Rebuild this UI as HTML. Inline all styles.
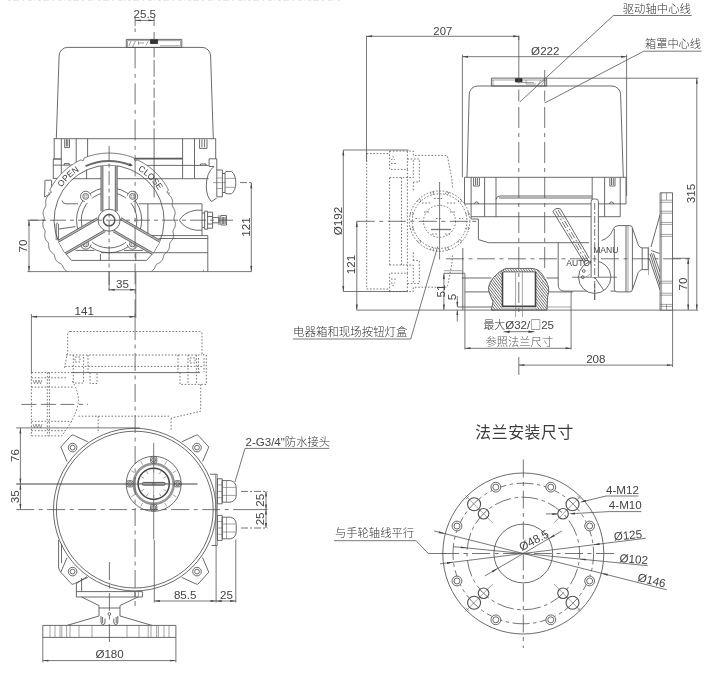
<!DOCTYPE html>
<html lang="zh-CN"><head><meta charset="utf-8"><title>外形尺寸图</title>
<style>
html,body{margin:0;padding:0;background:#fff;}
body{width:713px;height:675px;overflow:hidden;}
svg{display:block;will-change:transform;}
.g line,.g path,.g circle,.g rect,.g ellipse,.g polyline{fill:none;stroke:#505050;stroke-width:.85;stroke-linecap:butt;stroke-linejoin:round;}
.g .d{stroke:#555;stroke-width:.8;}
.g .n{stroke-width:.6;stroke:#666;}
.g .c{stroke-dasharray:18 4.5 4 4.5;stroke-width:.8;}
.g .cs{stroke-dasharray:7 2 2 2;stroke-width:.8;}
.g .h{stroke-dasharray:1.6 1.7;stroke-width:.8;stroke:#555;}
.g .a{fill:#444;stroke:none;}
.g .k{fill:#333;stroke:#333;}
.g .w{fill:#fff;}
text{font-family:"Liberation Sans","Noto Sans CJK SC",sans-serif;fill:#444;}
text.cj,tspan.cj{font-weight:300;fill:#333;}
text.ti{fill:#3c3c3c;font-weight:400;}
text.lt{font-weight:300;fill:#555;}
</style></head><body>
<svg width="713" height="675" viewBox="0 0 713 675">
<rect width="713" height="675" fill="#fff"/>
<g class="g">
<line x1="8" y1="0.3" x2="340" y2="0.3" style="stroke:#e2e2e2;stroke-width:1;stroke-dasharray:3 2 6 3 2 4 4 2 1 3"/>
<!-- front view -->
<path d="M56.3 138.7 L59.1 56 A8.6 8.6 0 0 1 67.7 47.4 L202 47.4 A8.6 8.6 0 0 1 210.6 56 L213.3 138.7"/>
<rect x="126.3" y="39.4" width="55.5" height="8"/>
<path d="M127.5 47.4 V40.6 H150 M158 40.6 H180.6 V45.8 H160" class="n"/>
<rect x="150.5" y="39.8" width="7.1" height="3.8" class="k"/>
<path d="M129 46 L131 41 M132.5 47 L135.5 41 M138.5 45 V41.5 M138.5 43 H144 M146 45.5 L148 41.5" class="n"/>
<line x1="53.6" y1="138.7" x2="215.7" y2="138.7"/>
<path d="M54.2 138.7 V159 M53.3 159 V178.4 H58.5"/>
<line x1="61.3" y1="138.7" x2="61.3" y2="178"/>
<line x1="76.2" y1="138.7" x2="76.2" y2="165.1"/>
<line x1="87.6" y1="138.7" x2="87.6" y2="160"/>
<path d="M53.3 159 H61.3" style="stroke-width:1.3"/>
<line x1="53.3" y1="165.1" x2="78" y2="165.1"/>
<path d="M64.7 139.3 V147.6 H69.5 V139.3 M66.4 139.3 V146.5 M67.8 139.3 V146.5"/>
<path d="M64.4 165.1 V163.6 H69.3 V165.1"/>
<line x1="182.6" y1="138.7" x2="182.6" y2="178.6"/>
<line x1="194.5" y1="138.7" x2="194.5" y2="178.6"/>
<path d="M134.8 158.6 H182.6" style="stroke-width:1.7;stroke:#5a5a5a"/>
<line x1="142" y1="165.4" x2="208.6" y2="165.4"/>
<path d="M199.6 139.3 V148.4 H207 V139.3 M202 139.3 V147.3 M204.6 139.3 V147.3"/>
<path d="M200.4 165.4 V164 H206 V165.4"/>
<path d="M215.7 138.7 V158.8 M209.1 166.5 V158.8 H216.8 V170"/>
<path d="M214 166.5 Q206.5 172 206.3 186 Q206.5 197 211.5 201.5 L216.8 198"/>
<line x1="209.1" y1="166.5" x2="214" y2="166.5"/>
<path d="M216.8 170 H222.4 V196.8 H216.8 Z"/>
<line x1="216.8" y1="178" x2="222.4" y2="178" class="n"/>
<line x1="216.8" y1="188.5" x2="222.4" y2="188.5" class="n"/>
<path d="M222.4 173.5 H225 M222.4 192.5 H225"/>
<path d="M225 173.2 Q225 171.4 227 171.4 H231.5 Q235.8 175 235.8 182.6 Q235.8 190.5 231.5 193.8 H227 Q225 193.8 225 192 Z"/>
<line x1="225" y1="178.4" x2="235" y2="178.4" class="n"/>
<line x1="225" y1="187.3" x2="235" y2="187.3" class="n"/>
<line x1="213" y1="182.6" x2="226" y2="182.6" class="n"/>
<line x1="202" y1="203.8" x2="202" y2="235.6"/>
<path d="M202 210.2 H196 Q184 212 179.4 220.2 Q184 228.5 196 230.2 H202"/>
<path d="M204.6 211.2 H207.6 V229.2 H204.6 Z M207.6 212.2 H212.6 V228.2 H207.6 M207.6 216.5 H212.6 M207.6 224 H212.6"/>
<path d="M212.6 217.6 H219 V222.8 H212.6 M219 215.3 V225.2 M220.8 215.5 H226.5 V225 H220.8 Z M222.3 217 V224 M223.7 217 V224 M225.1 217 V224"/>
<line x1="202" y1="213" x2="204.6" y2="213"/>
<line x1="202" y1="227.4" x2="204.6" y2="227.4"/>
<line x1="207.8" y1="235.6" x2="207.8" y2="271.6"/>
<line x1="203.5" y1="271.6" x2="203.5" y2="269.8" class="n"/>
<line x1="27.5" y1="271.6" x2="251.5" y2="271.6" class="d"/>
<path d="M45 181 Q44.3 180.4 45.5 180.3 L50.8 180.2 Q51.6 180.2 51.6 181 V193 L44.6 197 Z"/>
<path d="M66.97 271.6 L66.56 271.09 L66.18 270.83 L65.81 270.54 L65.46 270.24 L65.11 269.93 L64.77 269.62 L64.44 269.28 L64.14 268.92 L63.87 268.54 L63.62 268.13 L63.39 267.69 L63.19 267.24 L63 266.78 L62.81 266.32 L62.61 265.87 L62.39 265.45 L62.14 265.06 L61.86 264.7 L61.53 264.38 L61.17 264.09 L60.78 263.84 L60.35 263.6 L59.91 263.38 L59.47 263.16 L59.02 262.94 L58.59 262.69 L58.18 262.43 L57.8 262.14 L57.45 261.83 L57.13 261.49 L56.83 261.14 L56.54 260.77 L56.26 260.4 L55.99 260.03 L55.73 259.63 L55.51 259.22 L55.32 258.79 L55.16 258.33 L55.03 257.86 L54.92 257.38 L54.82 256.89 L54.72 256.4 L54.61 255.93 L54.47 255.47 L54.3 255.04 L54.09 254.64 L53.83 254.26 L53.53 253.91 L53.19 253.59 L52.81 253.28 L52.42 252.97 L52.03 252.67 L51.63 252.36 L51.26 252.04 L50.92 251.7 L50.6 251.34 L50.32 250.97 L50.07 250.57 L49.85 250.16 L49.64 249.75 L49.43 249.33 L49.24 248.91 L49.08 248.47 L48.94 248.02 L48.84 247.56 L48.77 247.08 L48.74 246.59 L48.73 246.09 L48.73 245.59 L48.72 245.1 L48.71 244.61 L48.66 244.14 L48.57 243.69 L48.43 243.25 L48.25 242.84 L48.01 242.44 L47.74 242.05 L47.43 241.67 L47.1 241.3 L46.77 240.93 L46.45 240.55 L46.15 240.16 L45.88 239.76 L45.65 239.35 L45.45 238.92 L45.28 238.48 L45.14 238.04 L45.02 237.59 L44.9 237.14 L44.8 236.69 L44.72 236.23 L44.68 235.76 L44.68 235.28 L44.71 234.8 L44.77 234.31 L44.86 233.82 L44.96 233.33 L45.05 232.85 L45.12 232.37 L45.16 231.9 L45.16 231.43 L45.1 230.98 L44.99 230.54 L44.84 230.1 L44.64 229.67 L44.41 229.24 L44.16 228.81 L43.91 228.38 L43.67 227.95 L43.45 227.51 L43.27 227.06 L43.12 226.61 L43.02 226.15 L42.94 225.69 L42.89 225.23 L42.86 224.77 L42.83 224.3 L42.82 223.84 L42.84 223.37 L42.89 222.9 L42.98 222.43 L43.11 221.97 L43.27 221.5 L43.46 221.04 L43.65 220.58 L43.83 220.12 L43.99 219.66 L44.12 219.21 L44.2 218.75 L44.23 218.3 L44.2 217.84 L44.13 217.39 L44.01 216.92 L43.87 216.46 L43.71 215.99 L43.54 215.52 L43.39 215.04 L43.27 214.57 L43.18 214.1 L43.13 213.62 L43.12 213.16 L43.14 212.69 L43.18 212.23 L43.24 211.77 L43.3 211.3 L43.39 210.85 L43.5 210.39 L43.64 209.95 L43.83 209.51 L44.05 209.07 L44.3 208.65 L44.57 208.23 L44.85 207.81 L45.11 207.4 L45.36 206.98 L45.57 206.56 L45.73 206.13 L45.84 205.69 L45.9 205.24 L45.91 204.77 L45.88 204.29 L45.83 203.81 L45.76 203.32 L45.69 202.82 L45.64 202.33 L45.62 201.84 L45.62 201.36 L45.67 200.89 L45.75 200.43 L45.87 199.98 L46 199.53 L46.15 199.09 L46.3 198.65 L46.47 198.22 L46.67 197.79 L46.91 197.39 L47.18 196.99 L47.48 196.61 L47.81 196.24 L48.16 195.89 L48.51 195.53 L48.85 195.18 L49.17 194.82 L49.45 194.44 L49.69 194.05 L48.7 193.11 L49.74 193.07 L50.56 192.95 L51.07 192.69 L51.2 192.25 L50.98 191.64 L50.47 190.88 L49.81 190.03 L49.96 189.58 L50.17 189.17 L50.39 188.75 L50.61 188.34 L50.84 187.93 L51.06 187.53 L51.3 187.12 L51.53 186.72 L51.76 186.31 L52 185.91 L52.24 185.51 L52.49 185.12 L52.74 184.72 L52.99 184.33 L53.24 183.94 L53.49 183.54 L53.75 183.16 L54.01 182.77 L54.28 182.38 L54.54 182 L54.81 181.62 L55.08 181.24 L55.36 180.86 L55.64 180.49 L55.92 180.11 L56.2 179.74 L56.48 179.37 L56.77 179 L57.06 178.64 L57.35 178.27 L57.65 177.91 L57.94 177.55 L58.24 177.2 L58.55 176.84 L58.85 176.49 L59.16 176.14 L59.47 175.79 L59.78 175.44 L60.1 175.1 L60.41 174.75 L60.73 174.41 L61.06 174.08 L61.38 173.74 L61.71 173.41 L62.04 173.08 L62.37 172.75 L62.7 172.42 L63.04 172.1 L63.38 171.78 L63.72 171.46 L64.06 171.14 L64.4 170.83 L64.75 170.51 L65.1 170.2 L65.45 169.9 L65.8 169.59 L66.16 169.29 L66.52 168.99 L66.88 168.69 L67.24 168.4 L67.6 168.11 L67.97 167.82 L68.34 167.53 L68.71 167.25 L69.08 166.97 L69.45 166.69 L69.83 166.41 L70.21 166.14 L70.59 165.86 L70.97 165.6 L71.35 165.33 L71.74 165.07 L72.12 164.81 L72.51 164.55 L72.9 164.29 L73.3 164.04 L73.69 163.79 L74.09 163.55 L74.49 163.3 L74.89 163.06 L75.29 162.82 L75.69 162.59 L76.09 162.35 L76.5 162.12 L76.91 161.9 L77.32 161.67 L77.73 161.45 L78.14 161.23 L78.55 161.02 L78.97 160.81 L79.39 160.6 L79.8 160.39 L80.22 160.19 L80.65 159.98 L81.15 159.97 L81.86 160.4 L82.49 160.68 L83.01 160.72 L83.39 160.46 L83.65 159.91 L83.82 159.12 L83.94 158.18 L84.31 157.85 L84.75 157.67 L85.19 157.5 L85.63 157.34 L86.07 157.18 L86.51 157.02 L86.96 156.86 L87.4 156.71 L87.85 156.56 L88.29 156.41 L88.74 156.26 L89.19 156.12 L89.64 155.98 L90.09 155.85 L90.54 155.72 L90.99 155.59 L91.44 155.46 L91.9 155.34 L92.35 155.22 L92.81 155.11 L93.27 155 L93.72 154.89 L94.18 154.78 L94.64 154.68 L95.1 154.58 L95.56 154.48 L96.02 154.39 L96.48 154.3 L96.94 154.21 L97.41 154.13 L97.87 154.05 L98.33 153.97 L98.8 153.9 L99.26 153.83 L99.73 153.76 L100.19 153.69 L100.66 153.63 L101.13 153.58 L101.59 153.52 L102.06 153.47 L102.53 153.42 L103 153.38 L103.46 153.34 L103.93 153.3 L104.4 153.26 L104.87 153.23 L105.34 153.21 L105.81 153.18 L106.28 153.16 L106.75 153.14 L107.22 153.13 L107.69 153.11 L108.16 153.11 L108.63 153.1 L109.1 153.1 L109.57 153.1 L110.04 153.11 L110.51 153.11 L110.98 153.13 L111.45 153.14 L111.92 153.16 L112.39 153.18 L112.86 153.21 L113.33 153.23 L113.8 153.26 L114.27 153.3 L114.74 153.34 L115.2 153.38 L115.67 153.42 L116.14 153.47 L116.61 153.52 L117.07 153.58 L117.54 153.63 L118.01 153.69 L118.47 153.76 L118.94 153.83 L119.4 153.9 L119.87 153.97 L120.33 154.05 L120.79 154.13 L121.26 154.21 L121.72 154.3 L122.18 154.39 L122.64 154.48 L123.1 154.58 L123.56 154.68 L124.02 154.78 L124.48 154.89 L124.93 155 L125.39 155.11 L125.85 155.22 L126.3 155.34 L126.76 155.46 L127.21 155.59 L127.66 155.72 L128.11 155.85 L128.56 155.98 L129.01 156.12 L129.46 156.26 L129.91 156.41 L130.35 156.56 L130.8 156.71 L131.24 156.86 L131.69 157.02 L132.13 157.18 L132.57 157.34 L133.01 157.5 L133.45 157.67 L133.89 157.85 L134.26 158.18 L134.38 159.12 L134.55 159.91 L134.81 160.46 L135.19 160.72 L135.71 160.68 L136.34 160.4 L137.05 159.97 L137.55 159.98 L137.98 160.19 L138.4 160.39 L138.81 160.6 L139.23 160.81 L139.65 161.02 L140.06 161.23 L140.47 161.45 L140.88 161.67 L141.29 161.9 L141.7 162.12 L142.11 162.35 L142.51 162.59 L142.91 162.82 L143.31 163.06 L143.71 163.3 L144.11 163.55 L144.51 163.79 L144.9 164.04 L145.3 164.29 L145.69 164.55 L146.08 164.81 L146.46 165.07 L146.85 165.33 L147.23 165.6 L147.61 165.86 L147.99 166.14 L148.37 166.41 L148.75 166.69 L149.12 166.97 L149.49 167.25 L149.86 167.53 L150.23 167.82 L150.6 168.11 L150.96 168.4 L151.32 168.69 L151.68 168.99 L152.04 169.29 L152.4 169.59 L152.75 169.9 L153.1 170.2 L153.45 170.51 L153.8 170.83 L154.14 171.14 L154.48 171.46 L154.82 171.78 L155.16 172.1 L155.5 172.42 L155.83 172.75 L156.16 173.08 L156.49 173.41 L156.82 173.74 L157.14 174.08 L157.47 174.41 L157.79 174.75 L158.1 175.1 L158.42 175.44 L158.73 175.79 L159.04 176.14 L159.35 176.49 L159.65 176.84 L159.96 177.2 L160.26 177.55 L160.55 177.91 L160.85 178.27 L161.14 178.64 L161.43 179 L161.72 179.37 L162 179.74 L162.28 180.11 L162.56 180.49 L162.84 180.86 L163.12 181.24 L163.39 181.62 L163.66 182 L163.92 182.38 L164.19 182.77 L164.45 183.16 L164.71 183.54 L164.96 183.94 L165.21 184.33 L165.46 184.72 L165.71 185.12 L165.96 185.51 L166.2 185.91 L166.44 186.31 L166.67 186.72 L166.9 187.12 L167.14 187.53 L167.36 187.93 L167.59 188.34 L167.81 188.75 L168.03 189.17 L168.24 189.58 L168.39 190.03 L167.73 190.88 L167.22 191.64 L167 192.25 L167.13 192.69 L167.64 192.95 L168.46 193.07 L169.5 193.11 L168.51 194.05 L168.75 194.44 L169.03 194.82 L169.35 195.18 L169.69 195.53 L170.04 195.89 L170.39 196.24 L170.72 196.61 L171.02 196.99 L171.29 197.39 L171.53 197.79 L171.73 198.22 L171.9 198.65 L172.05 199.09 L172.2 199.53 L172.33 199.98 L172.45 200.43 L172.53 200.89 L172.58 201.36 L172.58 201.84 L172.56 202.33 L172.51 202.82 L172.44 203.32 L172.37 203.81 L172.32 204.29 L172.29 204.77 L172.3 205.24 L172.36 205.69 L172.47 206.13 L172.63 206.56 L172.84 206.98 L173.09 207.4 L173.35 207.81 L173.63 208.23 L173.9 208.65 L174.15 209.07 L174.37 209.51 L174.56 209.95 L174.7 210.39 L174.81 210.85 L174.9 211.3 L174.96 211.77 L175.02 212.23 L175.06 212.69 L175.08 213.16 L175.07 213.62 L175.02 214.1 L174.93 214.57 L174.81 215.04 L174.66 215.52 L174.49 215.99 L174.33 216.46 L174.19 216.92 L174.07 217.39 L174 217.84 L173.97 218.3 L174 218.75 L174.08 219.21 L174.21 219.66 L174.37 220.12 L174.55 220.58 L174.74 221.04 L174.93 221.5 L175.09 221.97 L175.22 222.43 L175.31 222.9 L175.36 223.37 L175.38 223.84 L175.37 224.3 L175.34 224.77 L175.31 225.23 L175.26 225.69 L175.18 226.15 L175.08 226.61 L174.93 227.06 L174.75 227.51 L174.53 227.95 L174.29 228.38 L174.04 228.81 L173.79 229.24 L173.56 229.67 L173.36 230.1 L173.21 230.54 L173.1 230.98 L173.04 231.43 L173.04 231.9 L173.08 232.37 L173.15 232.85 L173.24 233.33 L173.34 233.82 L173.43 234.31 L173.49 234.8 L173.52 235.28 L173.52 235.76 L173.48 236.23 L173.4 236.69 L173.3 237.14 L173.18 237.59 L173.06 238.04 L172.92 238.48 L172.75 238.92 L172.55 239.35 L172.32 239.76 L172.05 240.16 L171.75 240.55 L171.43 240.93 L171.1 241.3 L170.77 241.67 L170.46 242.05 L170.19 242.44 L169.95 242.84 L169.77 243.25 L169.63 243.69 L169.54 244.14 L169.49 244.61 L169.48 245.1 L169.47 245.59 L169.47 246.09 L169.46 246.59 L169.43 247.08 L169.36 247.56 L169.26 248.02 L169.12 248.47 L168.96 248.91 L168.77 249.33 L168.56 249.75 L168.35 250.16 L168.13 250.57 L167.88 250.97 L167.6 251.34 L167.28 251.7 L166.94 252.04 L166.57 252.36 L166.17 252.67 L165.78 252.97 L165.39 253.28 L165.01 253.59 L164.67 253.91 L164.37 254.26 L164.11 254.64 L163.9 255.04 L163.73 255.47 L163.59 255.93 L163.48 256.4 L163.38 256.89 L163.28 257.38 L163.17 257.86 L163.04 258.33 L162.88 258.79 L162.69 259.22 L162.47 259.63 L162.21 260.03 L161.94 260.4 L161.66 260.77 L161.37 261.14 L161.07 261.49 L160.75 261.83 L160.4 262.14 L160.02 262.43 L159.61 262.69 L159.18 262.94 L158.73 263.16 L158.29 263.38 L157.85 263.6 L157.42 263.84 L157.03 264.09 L156.67 264.38 L156.34 264.7 L156.06 265.06 L155.81 265.45 L155.59 265.87 L155.39 266.32 L155.2 266.78 L155.01 267.24 L154.81 267.69 L154.58 268.13 L154.33 268.54 L154.06 268.92 L153.76 269.28 L153.43 269.62 L153.09 269.93 L152.74 270.24 L152.39 270.54 L152.02 270.83 L151.64 271.09 L151.23 271.6 L146.64 260.4 A55 55 0 1 0 71.56 260.4 Z" style="fill:#fff;stroke:none" fill-rule="evenodd"/>
<path d="M66.97 271.6 L66.56 271.09 L66.18 270.83 L65.81 270.54 L65.46 270.24 L65.11 269.93 L64.77 269.62 L64.44 269.28 L64.14 268.92 L63.87 268.54 L63.62 268.13 L63.39 267.69 L63.19 267.24 L63 266.78 L62.81 266.32 L62.61 265.87 L62.39 265.45 L62.14 265.06 L61.86 264.7 L61.53 264.38 L61.17 264.09 L60.78 263.84 L60.35 263.6 L59.91 263.38 L59.47 263.16 L59.02 262.94 L58.59 262.69 L58.18 262.43 L57.8 262.14 L57.45 261.83 L57.13 261.49 L56.83 261.14 L56.54 260.77 L56.26 260.4 L55.99 260.03 L55.73 259.63 L55.51 259.22 L55.32 258.79 L55.16 258.33 L55.03 257.86 L54.92 257.38 L54.82 256.89 L54.72 256.4 L54.61 255.93 L54.47 255.47 L54.3 255.04 L54.09 254.64 L53.83 254.26 L53.53 253.91 L53.19 253.59 L52.81 253.28 L52.42 252.97 L52.03 252.67 L51.63 252.36 L51.26 252.04 L50.92 251.7 L50.6 251.34 L50.32 250.97 L50.07 250.57 L49.85 250.16 L49.64 249.75 L49.43 249.33 L49.24 248.91 L49.08 248.47 L48.94 248.02 L48.84 247.56 L48.77 247.08 L48.74 246.59 L48.73 246.09 L48.73 245.59 L48.72 245.1 L48.71 244.61 L48.66 244.14 L48.57 243.69 L48.43 243.25 L48.25 242.84 L48.01 242.44 L47.74 242.05 L47.43 241.67 L47.1 241.3 L46.77 240.93 L46.45 240.55 L46.15 240.16 L45.88 239.76 L45.65 239.35 L45.45 238.92 L45.28 238.48 L45.14 238.04 L45.02 237.59 L44.9 237.14 L44.8 236.69 L44.72 236.23 L44.68 235.76 L44.68 235.28 L44.71 234.8 L44.77 234.31 L44.86 233.82 L44.96 233.33 L45.05 232.85 L45.12 232.37 L45.16 231.9 L45.16 231.43 L45.1 230.98 L44.99 230.54 L44.84 230.1 L44.64 229.67 L44.41 229.24 L44.16 228.81 L43.91 228.38 L43.67 227.95 L43.45 227.51 L43.27 227.06 L43.12 226.61 L43.02 226.15 L42.94 225.69 L42.89 225.23 L42.86 224.77 L42.83 224.3 L42.82 223.84 L42.84 223.37 L42.89 222.9 L42.98 222.43 L43.11 221.97 L43.27 221.5 L43.46 221.04 L43.65 220.58 L43.83 220.12 L43.99 219.66 L44.12 219.21 L44.2 218.75 L44.23 218.3 L44.2 217.84 L44.13 217.39 L44.01 216.92 L43.87 216.46 L43.71 215.99 L43.54 215.52 L43.39 215.04 L43.27 214.57 L43.18 214.1 L43.13 213.62 L43.12 213.16 L43.14 212.69 L43.18 212.23 L43.24 211.77 L43.3 211.3 L43.39 210.85 L43.5 210.39 L43.64 209.95 L43.83 209.51 L44.05 209.07 L44.3 208.65 L44.57 208.23 L44.85 207.81 L45.11 207.4 L45.36 206.98 L45.57 206.56 L45.73 206.13 L45.84 205.69 L45.9 205.24 L45.91 204.77 L45.88 204.29 L45.83 203.81 L45.76 203.32 L45.69 202.82 L45.64 202.33 L45.62 201.84 L45.62 201.36 L45.67 200.89 L45.75 200.43 L45.87 199.98 L46 199.53 L46.15 199.09 L46.3 198.65 L46.47 198.22 L46.67 197.79 L46.91 197.39 L47.18 196.99 L47.48 196.61 L47.81 196.24 L48.16 195.89 L48.51 195.53 L48.85 195.18 L49.17 194.82 L49.45 194.44 L49.69 194.05 L48.7 193.11 L49.74 193.07 L50.56 192.95 L51.07 192.69 L51.2 192.25 L50.98 191.64 L50.47 190.88 L49.81 190.03 L49.96 189.58 L50.17 189.17 L50.39 188.75 L50.61 188.34 L50.84 187.93 L51.06 187.53 L51.3 187.12 L51.53 186.72 L51.76 186.31 L52 185.91 L52.24 185.51 L52.49 185.12 L52.74 184.72 L52.99 184.33 L53.24 183.94 L53.49 183.54 L53.75 183.16 L54.01 182.77 L54.28 182.38 L54.54 182 L54.81 181.62 L55.08 181.24 L55.36 180.86 L55.64 180.49 L55.92 180.11 L56.2 179.74 L56.48 179.37 L56.77 179 L57.06 178.64 L57.35 178.27 L57.65 177.91 L57.94 177.55 L58.24 177.2 L58.55 176.84 L58.85 176.49 L59.16 176.14 L59.47 175.79 L59.78 175.44 L60.1 175.1 L60.41 174.75 L60.73 174.41 L61.06 174.08 L61.38 173.74 L61.71 173.41 L62.04 173.08 L62.37 172.75 L62.7 172.42 L63.04 172.1 L63.38 171.78 L63.72 171.46 L64.06 171.14 L64.4 170.83 L64.75 170.51 L65.1 170.2 L65.45 169.9 L65.8 169.59 L66.16 169.29 L66.52 168.99 L66.88 168.69 L67.24 168.4 L67.6 168.11 L67.97 167.82 L68.34 167.53 L68.71 167.25 L69.08 166.97 L69.45 166.69 L69.83 166.41 L70.21 166.14 L70.59 165.86 L70.97 165.6 L71.35 165.33 L71.74 165.07 L72.12 164.81 L72.51 164.55 L72.9 164.29 L73.3 164.04 L73.69 163.79 L74.09 163.55 L74.49 163.3 L74.89 163.06 L75.29 162.82 L75.69 162.59 L76.09 162.35 L76.5 162.12 L76.91 161.9 L77.32 161.67 L77.73 161.45 L78.14 161.23 L78.55 161.02 L78.97 160.81 L79.39 160.6 L79.8 160.39 L80.22 160.19 L80.65 159.98 L81.15 159.97 L81.86 160.4 L82.49 160.68 L83.01 160.72 L83.39 160.46 L83.65 159.91 L83.82 159.12 L83.94 158.18 L84.31 157.85 L84.75 157.67 L85.19 157.5 L85.63 157.34 L86.07 157.18 L86.51 157.02 L86.96 156.86 L87.4 156.71 L87.85 156.56 L88.29 156.41 L88.74 156.26 L89.19 156.12 L89.64 155.98 L90.09 155.85 L90.54 155.72 L90.99 155.59 L91.44 155.46 L91.9 155.34 L92.35 155.22 L92.81 155.11 L93.27 155 L93.72 154.89 L94.18 154.78 L94.64 154.68 L95.1 154.58 L95.56 154.48 L96.02 154.39 L96.48 154.3 L96.94 154.21 L97.41 154.13 L97.87 154.05 L98.33 153.97 L98.8 153.9 L99.26 153.83 L99.73 153.76 L100.19 153.69 L100.66 153.63 L101.13 153.58 L101.59 153.52 L102.06 153.47 L102.53 153.42 L103 153.38 L103.46 153.34 L103.93 153.3 L104.4 153.26 L104.87 153.23 L105.34 153.21 L105.81 153.18 L106.28 153.16 L106.75 153.14 L107.22 153.13 L107.69 153.11 L108.16 153.11 L108.63 153.1 L109.1 153.1 L109.57 153.1 L110.04 153.11 L110.51 153.11 L110.98 153.13 L111.45 153.14 L111.92 153.16 L112.39 153.18 L112.86 153.21 L113.33 153.23 L113.8 153.26 L114.27 153.3 L114.74 153.34 L115.2 153.38 L115.67 153.42 L116.14 153.47 L116.61 153.52 L117.07 153.58 L117.54 153.63 L118.01 153.69 L118.47 153.76 L118.94 153.83 L119.4 153.9 L119.87 153.97 L120.33 154.05 L120.79 154.13 L121.26 154.21 L121.72 154.3 L122.18 154.39 L122.64 154.48 L123.1 154.58 L123.56 154.68 L124.02 154.78 L124.48 154.89 L124.93 155 L125.39 155.11 L125.85 155.22 L126.3 155.34 L126.76 155.46 L127.21 155.59 L127.66 155.72 L128.11 155.85 L128.56 155.98 L129.01 156.12 L129.46 156.26 L129.91 156.41 L130.35 156.56 L130.8 156.71 L131.24 156.86 L131.69 157.02 L132.13 157.18 L132.57 157.34 L133.01 157.5 L133.45 157.67 L133.89 157.85 L134.26 158.18 L134.38 159.12 L134.55 159.91 L134.81 160.46 L135.19 160.72 L135.71 160.68 L136.34 160.4 L137.05 159.97 L137.55 159.98 L137.98 160.19 L138.4 160.39 L138.81 160.6 L139.23 160.81 L139.65 161.02 L140.06 161.23 L140.47 161.45 L140.88 161.67 L141.29 161.9 L141.7 162.12 L142.11 162.35 L142.51 162.59 L142.91 162.82 L143.31 163.06 L143.71 163.3 L144.11 163.55 L144.51 163.79 L144.9 164.04 L145.3 164.29 L145.69 164.55 L146.08 164.81 L146.46 165.07 L146.85 165.33 L147.23 165.6 L147.61 165.86 L147.99 166.14 L148.37 166.41 L148.75 166.69 L149.12 166.97 L149.49 167.25 L149.86 167.53 L150.23 167.82 L150.6 168.11 L150.96 168.4 L151.32 168.69 L151.68 168.99 L152.04 169.29 L152.4 169.59 L152.75 169.9 L153.1 170.2 L153.45 170.51 L153.8 170.83 L154.14 171.14 L154.48 171.46 L154.82 171.78 L155.16 172.1 L155.5 172.42 L155.83 172.75 L156.16 173.08 L156.49 173.41 L156.82 173.74 L157.14 174.08 L157.47 174.41 L157.79 174.75 L158.1 175.1 L158.42 175.44 L158.73 175.79 L159.04 176.14 L159.35 176.49 L159.65 176.84 L159.96 177.2 L160.26 177.55 L160.55 177.91 L160.85 178.27 L161.14 178.64 L161.43 179 L161.72 179.37 L162 179.74 L162.28 180.11 L162.56 180.49 L162.84 180.86 L163.12 181.24 L163.39 181.62 L163.66 182 L163.92 182.38 L164.19 182.77 L164.45 183.16 L164.71 183.54 L164.96 183.94 L165.21 184.33 L165.46 184.72 L165.71 185.12 L165.96 185.51 L166.2 185.91 L166.44 186.31 L166.67 186.72 L166.9 187.12 L167.14 187.53 L167.36 187.93 L167.59 188.34 L167.81 188.75 L168.03 189.17 L168.24 189.58 L168.39 190.03 L167.73 190.88 L167.22 191.64 L167 192.25 L167.13 192.69 L167.64 192.95 L168.46 193.07 L169.5 193.11 L168.51 194.05 L168.75 194.44 L169.03 194.82 L169.35 195.18 L169.69 195.53 L170.04 195.89 L170.39 196.24 L170.72 196.61 L171.02 196.99 L171.29 197.39 L171.53 197.79 L171.73 198.22 L171.9 198.65 L172.05 199.09 L172.2 199.53 L172.33 199.98 L172.45 200.43 L172.53 200.89 L172.58 201.36 L172.58 201.84 L172.56 202.33 L172.51 202.82 L172.44 203.32 L172.37 203.81 L172.32 204.29 L172.29 204.77 L172.3 205.24 L172.36 205.69 L172.47 206.13 L172.63 206.56 L172.84 206.98 L173.09 207.4 L173.35 207.81 L173.63 208.23 L173.9 208.65 L174.15 209.07 L174.37 209.51 L174.56 209.95 L174.7 210.39 L174.81 210.85 L174.9 211.3 L174.96 211.77 L175.02 212.23 L175.06 212.69 L175.08 213.16 L175.07 213.62 L175.02 214.1 L174.93 214.57 L174.81 215.04 L174.66 215.52 L174.49 215.99 L174.33 216.46 L174.19 216.92 L174.07 217.39 L174 217.84 L173.97 218.3 L174 218.75 L174.08 219.21 L174.21 219.66 L174.37 220.12 L174.55 220.58 L174.74 221.04 L174.93 221.5 L175.09 221.97 L175.22 222.43 L175.31 222.9 L175.36 223.37 L175.38 223.84 L175.37 224.3 L175.34 224.77 L175.31 225.23 L175.26 225.69 L175.18 226.15 L175.08 226.61 L174.93 227.06 L174.75 227.51 L174.53 227.95 L174.29 228.38 L174.04 228.81 L173.79 229.24 L173.56 229.67 L173.36 230.1 L173.21 230.54 L173.1 230.98 L173.04 231.43 L173.04 231.9 L173.08 232.37 L173.15 232.85 L173.24 233.33 L173.34 233.82 L173.43 234.31 L173.49 234.8 L173.52 235.28 L173.52 235.76 L173.48 236.23 L173.4 236.69 L173.3 237.14 L173.18 237.59 L173.06 238.04 L172.92 238.48 L172.75 238.92 L172.55 239.35 L172.32 239.76 L172.05 240.16 L171.75 240.55 L171.43 240.93 L171.1 241.3 L170.77 241.67 L170.46 242.05 L170.19 242.44 L169.95 242.84 L169.77 243.25 L169.63 243.69 L169.54 244.14 L169.49 244.61 L169.48 245.1 L169.47 245.59 L169.47 246.09 L169.46 246.59 L169.43 247.08 L169.36 247.56 L169.26 248.02 L169.12 248.47 L168.96 248.91 L168.77 249.33 L168.56 249.75 L168.35 250.16 L168.13 250.57 L167.88 250.97 L167.6 251.34 L167.28 251.7 L166.94 252.04 L166.57 252.36 L166.17 252.67 L165.78 252.97 L165.39 253.28 L165.01 253.59 L164.67 253.91 L164.37 254.26 L164.11 254.64 L163.9 255.04 L163.73 255.47 L163.59 255.93 L163.48 256.4 L163.38 256.89 L163.28 257.38 L163.17 257.86 L163.04 258.33 L162.88 258.79 L162.69 259.22 L162.47 259.63 L162.21 260.03 L161.94 260.4 L161.66 260.77 L161.37 261.14 L161.07 261.49 L160.75 261.83 L160.4 262.14 L160.02 262.43 L159.61 262.69 L159.18 262.94 L158.73 263.16 L158.29 263.38 L157.85 263.6 L157.42 263.84 L157.03 264.09 L156.67 264.38 L156.34 264.7 L156.06 265.06 L155.81 265.45 L155.59 265.87 L155.39 266.32 L155.2 266.78 L155.01 267.24 L154.81 267.69 L154.58 268.13 L154.33 268.54 L154.06 268.92 L153.76 269.28 L153.43 269.62 L153.09 269.93 L152.74 270.24 L152.39 270.54 L152.02 270.83 L151.64 271.09 L151.23 271.6"/>
<path d="M71.56 260.4 A55 55 0 1 1 146.64 260.4"/>
<line x1="117.4" y1="178.7" x2="208.6" y2="178.7"/>
<line x1="138.6" y1="203.8" x2="202" y2="203.8"/>
<line x1="154.1" y1="138.7" x2="154.1" y2="197.5"/>
<line x1="147.9" y1="203.8" x2="147.9" y2="235.6"/>
<line x1="150.3" y1="235.6" x2="207.8" y2="235.6"/>
<line x1="158.6" y1="238.5" x2="207.8" y2="238.5"/>
<line x1="101" y1="252.7" x2="207.8" y2="252.7"/>
<line x1="72.8" y1="178.7" x2="101.4" y2="178.7"/>
<line x1="86.6" y1="169.6" x2="86.6" y2="178.7"/>
<path d="M62 200.5 Q62.5 203.8 66 203.8 H78"/>
<path d="M56.2 240 V224 Q57.3 222 58.4 224 V240"/>
<line x1="59" y1="229" x2="75.5" y2="226.6"/>
<line x1="75.6" y1="250.4" x2="94.5" y2="250.4"/>
<line x1="124" y1="250.4" x2="143" y2="250.4"/>
<line x1="71.56" y1="260.4" x2="146.64" y2="260.4"/>
<line x1="100.4" y1="253.9" x2="100.4" y2="260.4"/>
<line x1="135.8" y1="252.7" x2="135.8" y2="260.4"/>
<path d="M85.57 166.09 A59 59 0 0 1 131.2 165.5" style="stroke-width:2;stroke:#6a6a6a"/>
<path d="M132.9 165.99 L128.64 165.59 L129.96 162.89 Z" class="a"/>
<path id="rimp" d="M51.5 220.2 A57.6 57.6 0 0 1 166.7 220.2" style="stroke:none;fill:none"/>
<text font-size="8.6" style="fill:#3c3c3c"><textPath href="#rimp" startOffset="26%" text-anchor="middle">OPEN</textPath></text>
<text font-size="8.6" style="fill:#3c3c3c"><textPath href="#rimp" startOffset="74.6%" text-anchor="middle">CLOSE</textPath></text>
<circle cx="109.1" cy="220.2" r="32.6"/>
<circle cx="109.1" cy="220.2" r="27.8"/>
<circle cx="85.7" cy="196.4" r="5.2" class="w"/>
<circle cx="88.2" cy="198.9" r="4" style="fill:#fff;stroke:none"/>
<circle cx="85.7" cy="196.4" r="2.9"/>
<circle cx="85.7" cy="196.4" r="1.4" class="n"/>
<circle cx="85.7" cy="244" r="5.2" class="w"/>
<circle cx="88.2" cy="241.5" r="4" style="fill:#fff;stroke:none"/>
<circle cx="85.7" cy="244" r="2.9"/>
<circle cx="85.7" cy="244" r="1.4" class="n"/>
<circle cx="132.5" cy="196.4" r="5.2" class="w"/>
<circle cx="130" cy="198.9" r="4" style="fill:#fff;stroke:none"/>
<circle cx="132.5" cy="196.4" r="2.9"/>
<circle cx="132.5" cy="196.4" r="1.4" class="n"/>
<circle cx="132.5" cy="244" r="5.2" class="w"/>
<circle cx="130" cy="241.5" r="4" style="fill:#fff;stroke:none"/>
<circle cx="132.5" cy="244" r="2.9"/>
<circle cx="132.5" cy="244" r="1.4" class="n"/>
<path d="M117.2 211.2 L117.2 165.8 L101 165.8 L101 211.2 Z" style="fill:#fff;stroke:none"/>
<path d="M116.25 211.2 L116.25 165.55" style="stroke:#bbb;stroke-width:1.6"/>
<path d="M101.95 211.2 L101.95 165.55" style="stroke:#bbb;stroke-width:1.6"/>
<line x1="117.2" y1="211.2" x2="117.2" y2="165.8"/>
<line x1="101" y1="211.2" x2="101" y2="165.8"/>
<line x1="115.3" y1="211.2" x2="115.3" y2="165.55"/>
<line x1="102.9" y1="211.2" x2="102.9" y2="165.55"/>
<path d="M112.84 231.71 L152.16 254.41 L160.26 240.39 L120.94 217.69 Z" style="fill:#fff;stroke:none"/>
<path d="M113.32 230.89 L152.85 253.72" style="stroke:#bbb;stroke-width:1.6"/>
<path d="M120.47 218.51 L160 241.33" style="stroke:#bbb;stroke-width:1.6"/>
<line x1="112.84" y1="231.71" x2="152.16" y2="254.41"/>
<line x1="120.94" y1="217.69" x2="160.26" y2="240.39"/>
<line x1="113.79" y1="230.07" x2="153.33" y2="252.89"/>
<line x1="119.99" y1="219.33" x2="159.53" y2="242.16"/>
<path d="M97.26 217.69 L57.94 240.39 L66.04 254.41 L105.36 231.71 Z" style="fill:#fff;stroke:none"/>
<path d="M97.73 218.51 L58.2 241.33" style="stroke:#bbb;stroke-width:1.6"/>
<path d="M104.88 230.89 L65.35 253.72" style="stroke:#bbb;stroke-width:1.6"/>
<line x1="97.26" y1="217.69" x2="57.94" y2="240.39"/>
<line x1="105.36" y1="231.71" x2="66.04" y2="254.41"/>
<line x1="98.21" y1="219.33" x2="58.67" y2="242.16"/>
<line x1="104.41" y1="230.07" x2="64.87" y2="252.89"/>
<circle cx="109.1" cy="220.2" r="11" class="w"/>
<circle cx="109.1" cy="220.2" r="5.7" style="stroke-width:1.4"/>
<path d="M135.1 28.5 V32 M135.1 47.4 V316" class="c" style="stroke-dasharray:21 5.5 4 5.5"/>
<path d="M154.1 32 V39 M154.1 47.4 V138.7" class="c" style="stroke-dasharray:10 2.5 17 3 5 3"/>
<path d="M109.1 146 V290" class="c" style="stroke-dasharray:14 3.5 4 3.5"/>
<path d="M30 220.2 H233" class="c" style="stroke-dasharray:16 4 4 4;stroke-dashoffset:8"/>
<line x1="135.1" y1="17.5" x2="135.1" y2="26" class="d"/>
<line x1="154.1" y1="17.5" x2="154.1" y2="26" class="d"/>
<line x1="135.1" y1="20.4" x2="154.1" y2="20.4" class="d"/>
<path d="M135.1 20.4 L140.7 19.45 L140.7 21.35 Z" class="a"/>
<path d="M154.1 20.4 L148.5 21.35 L148.5 19.45 Z" class="a"/>
<text x="144.8" y="18.4" font-size="11.6" text-anchor="middle">25.5</text>
<line x1="29" y1="220.2" x2="29" y2="271.6" class="d"/>
<path d="M29 220.2 L29.95 225.8 L28.05 225.8 Z" class="a"/>
<path d="M29 271.6 L28.05 266 L29.95 266 Z" class="a"/>
<line x1="27.5" y1="220.2" x2="45" y2="220.2" class="d"/>
<text x="27.2" y="246" font-size="11.6" text-anchor="middle" transform="rotate(-90 27.2 246)">70</text>
<line x1="109.1" y1="272" x2="109.1" y2="291" class="d"/>
<line x1="135.8" y1="272" x2="135.8" y2="318" class="d"/>
<line x1="109.1" y1="289.8" x2="135.8" y2="289.8" class="d"/>
<path d="M109.1 289.8 L114.7 288.85 L114.7 290.75 Z" class="a"/>
<path d="M135.8 289.8 L130.2 290.75 L130.2 288.85 Z" class="a"/>
<text x="122.4" y="288" font-size="11.6" text-anchor="middle">35</text>
<line x1="240" y1="182.6" x2="252" y2="182.6" class="cs"/>
<line x1="251.3" y1="182.6" x2="251.3" y2="271.6" class="d"/>
<path d="M251.3 182.6 L252.25 188.2 L250.35 188.2 Z" class="a"/>
<path d="M251.3 271.6 L250.35 266 L252.25 266 Z" class="a"/>
<text x="249.6" y="227" font-size="11.6" text-anchor="middle" transform="rotate(-90 249.6 227)">121</text>
<!-- side view -->
<path d="M366.7 153.6 H389.6" class="h"/>
<path d="M 366.7 289 H 389.6" class="h"/>
<path d="M389.6 151 H413.3 V155.4 H446.7 Q447.6 156 448.2 160 L451.9 179 L452.6 189" class="h"/>
<path d="M 389.6 291.6 H 413.3 V 287.2 H 446.7 Q 447.6 286.6 448.2 282.6 L 451.9 263.6 L 452.6 253.6" class="h"/>
<path d="M389.6 151 V169.4 H407.4 V151" class="h"/>
<path d="M 389.6 291.6 V 273.2 H 407.4 V 291.6" class="h"/>
<path d="M391.5 160 L393 156.5 L394.5 160 M391 163.5 H396" class="h"/>
<path d="M 391.5 282.6 L 393 286.1 L 394.5 282.6 M 391 279.1 H 396" class="h"/>
<path d="M407.4 159 H419.3 V182 H413.3" class="h"/>
<path d="M 407.4 283.6 H 419.3 V 260.6 H 413.3" class="h"/>
<path d="M389.6 177.6 H413.3 V159" class="h"/>
<path d="M 389.6 265 H 413.3 V 283.6" class="h"/>
<path d="M389.6 177.6 V221.3 M401.5 177.6 V221.3 M407.4 169.4 V221.3 M413.3 182 V192" class="h"/>
<path d="M 389.6 265 V 221.3 M 401.5 265 V 221.3 M 407.4 273.2 V 221.3 M 413.3 260.6 V 250.6" class="h"/>
<line x1="366.7" y1="153.6" x2="366.7" y2="289" class="h"/>
<circle cx="439.6" cy="221.1" r="30.2" class="h"/>
<circle cx="439.6" cy="221.1" r="27.3" class="h"/>
<circle cx="439.5" cy="221.3" r="16" class="h"/>
<circle cx="467.42" cy="228.55" r="1.5" class="h"/>
<circle cx="459.96" cy="241.46" r="1.5" class="h"/>
<circle cx="447.05" cy="248.92" r="1.5" class="h"/>
<circle cx="432.15" cy="248.92" r="1.5" class="h"/>
<circle cx="419.24" cy="241.46" r="1.5" class="h"/>
<circle cx="411.78" cy="228.55" r="1.5" class="h"/>
<circle cx="411.78" cy="213.65" r="1.5" class="h"/>
<circle cx="419.24" cy="200.74" r="1.5" class="h"/>
<circle cx="432.15" cy="193.28" r="1.5" class="h"/>
<circle cx="447.05" cy="193.28" r="1.5" class="h"/>
<circle cx="459.96" cy="200.74" r="1.5" class="h"/>
<circle cx="467.42" cy="213.65" r="1.5" class="h"/>
<line x1="434" y1="198.5" x2="443" y2="198.5" class="h"/>
<line x1="447" y1="203" x2="457" y2="203" class="h"/>
<line x1="422" y1="203" x2="432" y2="203" class="h"/>
<line x1="424" y1="212" x2="430" y2="212" class="h"/>
<line x1="450" y1="212" x2="456" y2="212" class="h"/>
<line x1="415.5" y1="218.5" x2="419.5" y2="218.5" class="h"/>
<line x1="459" y1="218.5" x2="463" y2="218.5" class="h"/>
<line x1="436" y1="218.5" x2="442" y2="218.5" class="h"/>
<line x1="432" y1="234" x2="437" y2="234" class="h"/>
<line x1="445" y1="234" x2="450" y2="234" class="h"/>
<path d="M431 229.5 H451" style="stroke-width:1.3;stroke:#777"/>
<line x1="439.6" y1="182" x2="439.6" y2="259.5" class="d"/>
<path d="M467 177.3 L469.2 94.6 A8.6 8.6 0 0 1 477.8 86 L612 86 A8.6 8.6 0 0 1 620.6 94.6 L623.3 177.3"/>
<rect x="491.4" y="78.1" width="55.3" height="7.9"/>
<line x1="491.4" y1="80" x2="546.7" y2="80" class="n"/>
<rect x="515.5" y="78.6" width="6.5" height="3.4" class="k"/>
<path d="M493 86 V80 M521 82.5 H534 M526 80 V84 H536 M537 86 L541 80 M541 86 L545 80 M545 86 V80" class="n"/>
<line x1="464.5" y1="177.3" x2="626" y2="177.3"/>
<line x1="464.5" y1="177.3" x2="464.5" y2="203.9"/>
<line x1="626" y1="177.3" x2="626" y2="203.9"/>
<line x1="471.1" y1="177.3" x2="471.1" y2="216.7"/>
<line x1="484.6" y1="177.3" x2="484.6" y2="216.7"/>
<line x1="496" y1="177.3" x2="496" y2="216.7"/>
<path d="M473.6 178 V186 H479.4 V178 M475.6 178 V185 M477.4 178 V185"/>
<path d="M474.5 203.9 A2 2 0 0 1 478.5 203.9"/>
<path d="M592.2 196 H500 Q496.5 196 496 199.5"/>
<line x1="499" y1="198" x2="592.2" y2="198"/>
<line x1="464.5" y1="203.9" x2="626" y2="203.9"/>
<line x1="471.1" y1="216.7" x2="620.2" y2="216.7"/>
<line x1="592.2" y1="177.3" x2="592.2" y2="200"/>
<line x1="604.6" y1="177.3" x2="604.6" y2="216.7"/>
<line x1="620.2" y1="177.3" x2="620.2" y2="216.7"/>
<path d="M609.8 178 V186 H615 V178 M611.5 178 V185 M613.3 178 V185"/>
<path d="M609.6 203.9 A2 2 0 0 1 613.6 203.9"/>
<path d="M471.1 216.7 V219 H478.4 V239.6 L488.7 242.7 H589"/>
<line x1="558.2" y1="242.7" x2="558.2" y2="285"/>
<path d="M558.2 285 Q558.5 291 564 291.1 H596"/>
<line x1="462.8" y1="247.9" x2="462.8" y2="310.1"/>
<line x1="461.8" y1="278" x2="491.5" y2="278"/>
<line x1="546.5" y1="278" x2="558.2" y2="278"/>
<line x1="464.9" y1="291.9" x2="489.5" y2="291.9"/>
<line x1="549" y1="291.9" x2="572.9" y2="291.9"/>
<line x1="457.5" y1="307" x2="491.8" y2="307"/>
<line x1="546" y1="307" x2="571" y2="307" class="n"/>
<line x1="464.9" y1="273.5" x2="464.9" y2="349.5" class="d"/>
<line x1="571.1" y1="291.9" x2="571.1" y2="349.5" class="d"/>
<line x1="444" y1="270.7" x2="462.8" y2="270.7" class="n"/>
<line x1="356.8" y1="310.1" x2="698" y2="310.1" class="d"/>
<clipPath id="hc1"><path d="M491.3 310.1 L493 301.5 Q487.8 291 488.6 287 Q489.5 282 493.5 277.5 Q499 271 505.5 268.4 H531 Q538.5 268.6 542 274 Q548 283 548.6 288 Q549 293 547.6 297 L547 310.1 Z M502.5 271.9 H535.5 V310.1 H502.5 Z" clip-rule="evenodd" style="stroke:none"/></clipPath>
<path d="M448.06 266 L484 312 M450.66 266 L486.6 312 M453.26 266 L489.2 312 M455.87 266 L491.8 312 M458.47 266 L494.41 312 M461.07 266 L497.01 312 M463.67 266 L499.61 312 M466.27 266 L502.21 312 M468.87 266 L504.81 312 M471.47 266 L507.41 312 M474.08 266 L510.01 312 M476.68 266 L512.62 312 M479.28 266 L515.22 312 M481.88 266 L517.82 312 M484.48 266 L520.42 312 M487.08 266 L523.02 312 M489.68 266 L525.62 312 M492.29 266 L528.23 312 M494.89 266 L530.83 312 M497.49 266 L533.43 312 M500.09 266 L536.03 312 M502.69 266 L538.63 312 M505.29 266 L541.23 312 M507.9 266 L543.83 312 M510.5 266 L546.44 312 M513.1 266 L549.04 312 M515.7 266 L551.64 312 M518.3 266 L554.24 312 M520.9 266 L556.84 312 M523.5 266 L559.44 312 M526.11 266 L562.04 312 M528.71 266 L564.65 312 M531.31 266 L567.25 312 M533.91 266 L569.85 312 M536.51 266 L572.45 312 M539.11 266 L575.05 312 M541.71 266 L577.65 312 M544.32 266 L580.26 312 M546.92 266 L582.86 312 M549.52 266 L585.46 312 M552.12 266 L588.06 312 M554.72 266 L590.66 312 M557.32 266 L593.26 312 M559.92 266 L595.86 312 M562.53 266 L598.47 312 M565.13 266 L601.07 312 M567.73 266 L603.67 312 M570.33 266 L606.27 312 M572.93 266 L608.87 312 M575.53 266 L611.47 312 M578.14 266 L614.07 312 M580.74 266 L616.68 312 M583.34 266 L619.28 312 M585.94 266 L621.88 312 M588.54 266 L624.48 312" clip-path="url(#hc1)" style="stroke-width:.8;stroke:#4a4a4a"/>
<path d="M491.3 310.1 L493 301.5 Q487.8 291 488.6 287 Q489.5 282 493.5 277.5 Q499 271 505.5 268.4 H531 Q538.5 268.6 542 274 Q548 283 548.6 288 Q549 293 547.6 297 L547 310.1 Z"/>
<line x1="502.5" y1="271.9" x2="535.5" y2="271.9"/>
<path d="M502.5 271.9 V306.4 H535.5 V271.9" style="stroke-width:1.6;stroke:#444"/>
<line x1="502.5" y1="309" x2="535.5" y2="309" class="n"/>
<line x1="515.6" y1="272.4" x2="515.6" y2="317" class="n"/>
<line x1="522.4" y1="272.4" x2="522.4" y2="317" class="n"/>
<path d="M495 283 l1.2 1.5 M495 290 l1.2 1.5 M495 297 l1.2 1.5 M541.5 283 l1.2 -1.5 M541.5 290 l1.2 -1.5 M541.5 297 l1.2 -1.5" class="n"/>
<circle cx="594.7" cy="277.2" r="16.2" class="w"/>
<line x1="572" y1="277.2" x2="617" y2="277.2" class="d"/>
<circle cx="583.8" cy="271" r="1.4"/>
<circle cx="582.8" cy="277.2" r="1.4"/>
<line x1="594.7" y1="277.2" x2="590" y2="260.5"/>
<line x1="594.7" y1="277.2" x2="603.5" y2="289.8"/>
<line x1="586" y1="277.2" x2="590" y2="274" class="n"/>
<path d="M553 211.5 L584.8 263.5 M560.4 208.9 L589.2 258.2 M553 211.5 Q555.2 207.2 560.4 208.9"/>
<path d="M555.6 210.8 L586 262 M558 209.8 L588 260.5" class="cs"/>
<path d="M591.1 277 V201.5 Q591.1 199 593.6 199 H595.9 Q598.4 199 598.4 201.5 V277" class="w"/>
<line x1="594.7" y1="203" x2="594.7" y2="300" class="cs"/>
<path d="M601.6 240.5 Q609.5 238 612.5 230.5 Q614.3 225.6 618 225.6 H629.8 Q632.4 225.6 632.4 228.2 V289.3 Q632.4 291.9 629.8 291.9 H617 Q614.3 291.9 614.3 289.3 V229"/>
<line x1="626" y1="225.6" x2="626" y2="291.9"/>
<line x1="628" y1="225.6" x2="628" y2="291.9" class="n"/>
<line x1="610.5" y1="291.1" x2="615" y2="291.1"/>
<path d="M632.4 228 L638.3 245 Q639.4 247.6 642.2 247.9 M632.4 289.5 L638.3 272.5 Q639.4 270 642.2 269.6"/>
<rect x="642.2" y="247.9" width="6" height="21.7"/>
<line x1="648.6" y1="246.5" x2="648.6" y2="275" class="n"/>
<path d="M651 247 L660.1 214.5"/>
<path d="M650 254 L660.1 285.5 M651.5 253 L660.1 279 M649.5 259 L660.1 290 M653.5 253.5 L660.1 272"/>
<path d="M651 250.5 L659.5 253.5"/>
<rect x="660.1" y="192.8" width="12.4" height="117.3" class="w"/>
<line x1="660.1" y1="200.2" x2="672.5" y2="200.2" class="n"/>
<line x1="660.1" y1="202.3" x2="672.5" y2="202.3" class="n"/>
<line x1="660.1" y1="211.2" x2="672.5" y2="211.2" class="n"/>
<line x1="660.1" y1="213.2" x2="672.5" y2="213.2" class="n"/>
<line x1="660.1" y1="222.4" x2="672.5" y2="222.4" class="n"/>
<line x1="660.1" y1="224.4" x2="672.5" y2="224.4" class="n"/>
<line x1="660.1" y1="234.4" x2="672.5" y2="234.4" class="n"/>
<line x1="660.1" y1="236.4" x2="672.5" y2="236.4" class="n"/>
<line x1="660.1" y1="281.2" x2="672.5" y2="281.2" class="n"/>
<line x1="660.1" y1="283.2" x2="672.5" y2="283.2" class="n"/>
<line x1="660.1" y1="293.2" x2="672.5" y2="293.2" class="n"/>
<line x1="660.1" y1="295.2" x2="672.5" y2="295.2" class="n"/>
<line x1="660.1" y1="304.4" x2="672.5" y2="304.4" class="n"/>
<line x1="660.1" y1="306.4" x2="672.5" y2="306.4" class="n"/>
<line x1="661.6" y1="192.8" x2="661.6" y2="310.1" class="n"/>
<line x1="666.5" y1="192.8" x2="666.5" y2="200.2" class="n"/>
<line x1="666.5" y1="304.4" x2="666.5" y2="310.1" class="n"/>
<line x1="518.8" y1="35.8" x2="518.8" y2="83.5" class="d"/>
<line x1="518.8" y1="89.5" x2="518.8" y2="101.5" class="d"/>
<path d="M518.8 107 V316.5 M518.8 357 V375" class="c" style="stroke-dasharray:21 5 4 5"/>
<line x1="544.7" y1="70" x2="544.7" y2="86.3" class="d"/>
<line x1="544.7" y1="90.5" x2="544.7" y2="101.5" class="d"/>
<path d="M544.7 107 V268" class="c" style="stroke-dasharray:21 5 4 5"/>
<line x1="446" y1="258.8" x2="690" y2="258.8" class="c"/>
<line x1="356.8" y1="221.3" x2="479" y2="221.3" class="c"/>
<line x1="594.7" y1="284" x2="594.7" y2="300" class="d"/>
<line x1="366.5" y1="35.8" x2="366.5" y2="161.5" class="d"/>
<line x1="518.8" y1="35.8" x2="518.8" y2="40" class="d"/>
<line x1="366.5" y1="36.3" x2="518.8" y2="36.3" class="d"/>
<path d="M366.5 36.3 L372.1 35.35 L372.1 37.25 Z" class="a"/>
<path d="M518.8 36.3 L513.2 37.25 L513.2 35.35 Z" class="a"/>
<text x="442.8" y="35" font-size="11.3" text-anchor="middle">207</text>
<line x1="462.4" y1="54.5" x2="462.4" y2="177.3" class="d"/>
<line x1="626.6" y1="54.5" x2="626.6" y2="196" class="d"/>
<line x1="462.4" y1="56.7" x2="626.6" y2="56.7" class="d"/>
<path d="M462.4 56.7 L468 55.75 L468 57.65 Z" class="a"/>
<path d="M626.6 56.7 L621 57.65 L621 55.75 Z" class="a"/>
<text x="545.3" y="54.6" font-size="11.6" text-anchor="middle">Ø222</text>
<line x1="547" y1="78.2" x2="698.5" y2="78.2" class="d"/>
<line x1="696.8" y1="78.2" x2="696.8" y2="310.1" class="d"/>
<path d="M696.8 78.2 L697.75 83.8 L695.85 83.8 Z" class="a"/>
<path d="M696.8 310.1 L695.85 304.5 L697.75 304.5 Z" class="a"/>
<text x="694.6" y="193.5" font-size="11.6" text-anchor="middle" transform="rotate(-90 694.6 193.5)">315</text>
<line x1="343.3" y1="150" x2="408.6" y2="150" class="d"/>
<line x1="343.3" y1="291.5" x2="407.6" y2="291.5" class="d"/>
<line x1="343.3" y1="150" x2="343.3" y2="291.5" class="d"/>
<path d="M343.3 150 L344.25 155.6 L342.35 155.6 Z" class="a"/>
<path d="M343.3 291.5 L342.35 285.9 L344.25 285.9 Z" class="a"/>
<text x="342.4" y="221" font-size="11.6" text-anchor="middle" transform="rotate(-90 342.4 221)">Ø192</text>
<line x1="356.8" y1="221.3" x2="356.8" y2="310.1" class="d"/>
<path d="M356.8 221.3 L357.75 226.9 L355.85 226.9 Z" class="a"/>
<path d="M356.8 310.1 L355.85 304.5 L357.75 304.5 Z" class="a"/>
<text x="355.3" y="264.5" font-size="11.6" text-anchor="middle" transform="rotate(-90 355.3 264.5)">121</text>
<line x1="443.9" y1="273.3" x2="465" y2="273.3" class="d"/>
<line x1="443.9" y1="273.3" x2="443.9" y2="310.1" class="d"/>
<path d="M443.9 273.3 L444.85 278.9 L442.95 278.9 Z" class="a"/>
<path d="M443.9 310.1 L442.95 304.5 L444.85 304.5 Z" class="a"/>
<text x="445" y="291" font-size="11.6" text-anchor="middle" transform="rotate(-90 445 291)">51</text>
<line x1="457.3" y1="296" x2="457.3" y2="307" class="d"/>
<path d="M457.3 307 L456.35 302 L458.25 302 Z" class="a"/>
<line x1="457.3" y1="310.1" x2="457.3" y2="321.5" class="d"/>
<path d="M457.3 310.1 L458.25 315.1 L456.35 315.1 Z" class="a"/>
<text x="456.4" y="297" font-size="11.6" text-anchor="middle" transform="rotate(-90 456.4 297)">5</text>
<line x1="672.6" y1="310.1" x2="672.6" y2="367" class="d"/>
<line x1="518.8" y1="365.1" x2="672.6" y2="365.1" class="d"/>
<path d="M518.8 365.1 L524.4 364.15 L524.4 366.05 Z" class="a"/>
<path d="M672.6 365.1 L667 366.05 L667 364.15 Z" class="a"/>
<text x="595.8" y="362.6" font-size="11.6" text-anchor="middle">208</text>
<line x1="672.5" y1="258.3" x2="690" y2="258.3" class="d"/>
<line x1="688.2" y1="258.3" x2="688.2" y2="310.1" class="d"/>
<path d="M688.2 258.3 L689.15 263.9 L687.25 263.9 Z" class="a"/>
<path d="M688.2 310.1 L687.25 304.5 L689.15 304.5 Z" class="a"/>
<text x="687.3" y="284" font-size="11.6" text-anchor="middle" transform="rotate(-90 687.3 284)">70</text>
<line x1="464.9" y1="348.3" x2="571.1" y2="348.3" class="d"/>
<path d="M464.9 348.3 L470.5 347.35 L470.5 349.25 Z" class="a"/>
<path d="M571.1 348.3 L565.5 349.25 L565.5 347.35 Z" class="a"/>
<line x1="503.7" y1="331.7" x2="534.5" y2="331.7" class="d"/>
<path d="M503.7 331.7 L509.7 330.5 L509.7 332.9 Z" class="a"/>
<path d="M534.5 331.7 L528.5 332.9 L528.5 330.5 Z" class="a"/>
<text x="483.4" y="329.3" font-size="11.5" text-anchor="start"><tspan class="cj" font-size="10.9">最大</tspan>Ø32/<tspan font-family="Noto Sans CJK SC" font-size="11" dy="-0.3">□</tspan><tspan dy="0.3">25</tspan></text>
<text x="519.3" y="345.6" font-size="11.3" text-anchor="middle" class="lt">参照法兰尺寸</text>
<text x="593.2" y="252.6" font-size="8.6" text-anchor="start">MANU</text>
<text x="566.2" y="266" font-size="8.6" text-anchor="start">AUTO</text>
<text x="656.8" y="12.6" font-size="11.35" text-anchor="middle" class="cj">驱动轴中心线</text>
<path d="M691.6 15.5 H613.4 L519.9 101.9" class="d"/>
<text x="673" y="47.6" font-size="11.2" text-anchor="middle" class="cj">箱罩中心线</text>
<path d="M701.5 51.2 H643.8 L544.7 103" class="d"/>
<text x="350.3" y="335.8" font-size="11.45" text-anchor="middle" class="cj">电器箱和现场按钮灯盒</text>
<path d="M293 339 H410.7 L437.7 246.5" class="d"/>
<!-- top view -->
<path d="M70 331.5 H199.5 Q202 331.5 202 334 V354.9 M70 331.5 Q67.7 331.5 67.7 334 V352 L64.3 368.5" class="h"/>
<path d="M66 355 H202 M65 366.4 H202" class="h"/>
<path d="M31.4 372.6 H72" class="h"/>
<line x1="72" y1="372.6" x2="200" y2="372.6"/>
<path d="M73.3 355 V383 H83.6 V355 M75 357 H80 V362 H75 Z M88 355 V372.6 M90 372.6 V383.5 H97 V372.6" class="h"/>
<path d="M178 354.9 V372.6 M180 372.6 V384.4 H206.3 V354.9 H202 M188 354.9 V384.4 M196.4 354.9 V384.4 M190 358 H195 V363 H190 Z M198.5 358 V372 M204 358 V372" class="h"/>
<path d="M72.2 381 Q78 390 78.5 400 Q78 410 70 424 L61.9 435.9 H31.4" class="h"/>
<path d="M78.5 416.2 H171.1 M98.2 416.2 V433 M171.1 418.2 V430 M200.7 384.4 V411.2 L171.1 418.2" class="h"/>
<path d="M31.4 372.6 V435.9 M47.3 372.6 V435.9 M49.4 372.6 V435.9 M31.4 377.8 H66 M31.4 387.1 H74 M31.4 421.3 H72 M31.4 430.7 H65" class="h"/>
<path d="M33 380 l1.5 4 l1.5 -4 l1.5 4 l1.5 -4 l1.5 4 l1.5 -4 M33 424 l1.5 4 l1.5 -4 l1.5 4 l1.5 -4 l1.5 4 l1.5 -4" class="n"/>
<path d="M21.4 404.4 H88" class="c" style="stroke-dasharray:15 4.5 15 4.5 14 4.5 4 4"/>
<path d="M87.8 441.8 L74.5 435.6 L72.2 434.9 L70.5 436.3 L60.8 447 L67 461.5" class="w"/>
<circle cx="72.6" cy="447.6" r="4.3"/>
<circle cx="72.6" cy="447.6" r="2.4"/>
<path d="M87.8 577.4 L74.5 583.6 L72.2 584.3 L70.5 582.9 L60.8 572.2 L67 557.7" class="w"/>
<circle cx="72.6" cy="571.6" r="4.3"/>
<circle cx="72.6" cy="571.6" r="2.4"/>
<path d="M181.8 441.8 L195.1 435.6 L197.4 434.9 L199.1 436.3 L208.8 447 L202.6 461.5" class="w"/>
<circle cx="197" cy="447.6" r="4.3"/>
<circle cx="197" cy="447.6" r="2.4"/>
<path d="M181.8 577.4 L195.1 583.6 L197.4 584.3 L199.1 582.9 L208.8 572.2 L202.6 557.7" class="w"/>
<circle cx="197" cy="571.6" r="4.3"/>
<circle cx="197" cy="571.6" r="2.4"/>
<path d="M58.6 540 V568 L60.5 572"/>
<path d="M61.5 541 V563"/>
<path d="M76.4 583.5 V597 H142.4 V591.6 H76.4 M81.6 578 V591.6 M87 576.5 L76.4 583.5"/>
<path d="M81.6 597 L99 605.5 V616 M138 597 L120 605.5 V616 M99 608 H120"/>
<line x1="135" y1="591.6" x2="135" y2="597"/>
<line x1="138.5" y1="591.6" x2="138.5" y2="597" class="n"/>
<circle cx="134.8" cy="509.6" r="81.3" class="w"/>
<circle cx="134.8" cy="509.6" r="78.4"/>
<path d="M210 474.2 H217.1 V545.5 H211.5"/>
<line x1="215.5" y1="474.2" x2="215.5" y2="545.5" class="n"/>
<path d="M217.4 478.8 H222.2 V503.8 H217.4 Z"/>
<line x1="217.4" y1="484.9" x2="222.2" y2="484.9" class="n"/>
<line x1="217.4" y1="491.4" x2="222.2" y2="491.4" class="n"/>
<line x1="217.4" y1="497.7" x2="222.2" y2="497.7" class="n"/>
<path d="M222.2 480.6 H230.5 Q236.2 481.9 236.2 487.9 V494.9 Q236.2 500.9 230.5 502.2 H222.2 Z"/>
<line x1="222.2" y1="487.4" x2="235.8" y2="487.4" class="n"/>
<line x1="222.2" y1="495.4" x2="235.8" y2="495.4" class="n"/>
<line x1="226.5" y1="480.6" x2="226.5" y2="502.2" class="n"/>
<path d="M217.4 515.4 H222.2 V540.4 H217.4 Z"/>
<line x1="217.4" y1="521.5" x2="222.2" y2="521.5" class="n"/>
<line x1="217.4" y1="528" x2="222.2" y2="528" class="n"/>
<line x1="217.4" y1="534.3" x2="222.2" y2="534.3" class="n"/>
<path d="M222.2 517.2 H230.5 Q236.2 518.5 236.2 524.5 V531.5 Q236.2 537.5 230.5 538.8 H222.2 Z"/>
<line x1="222.2" y1="524" x2="235.8" y2="524" class="n"/>
<line x1="222.2" y1="532" x2="235.8" y2="532" class="n"/>
<line x1="226.5" y1="517.2" x2="226.5" y2="538.8" class="n"/>
<circle cx="153.7" cy="483.8" r="27.5" class="w"/>
<circle cx="153.7" cy="483.8" r="20" style="stroke-width:1.5;stroke:#9a9a9a"/>
<circle cx="153.7" cy="483.8" r="20.9" class="n"/>
<circle cx="153.7" cy="483.8" r="19.1" class="n"/>
<circle cx="153.7" cy="483.8" r="15.6" style="stroke-width:1.5;stroke:#444"/>
<line x1="164.9" y1="483.8" x2="168.3" y2="483.8" class="n"/>
<line x1="163.4" y1="489.4" x2="166.34" y2="491.1" class="n"/>
<line x1="159.3" y1="493.5" x2="161" y2="496.44" class="n"/>
<line x1="153.7" y1="495" x2="153.7" y2="498.4" class="n"/>
<line x1="148.1" y1="493.5" x2="146.4" y2="496.44" class="n"/>
<line x1="144" y1="489.4" x2="141.06" y2="491.1" class="n"/>
<line x1="142.5" y1="483.8" x2="139.1" y2="483.8" class="n"/>
<line x1="144" y1="478.2" x2="141.06" y2="476.5" class="n"/>
<line x1="148.1" y1="474.1" x2="146.4" y2="471.16" class="n"/>
<line x1="153.7" y1="472.6" x2="153.7" y2="469.2" class="n"/>
<line x1="159.3" y1="474.1" x2="161" y2="471.16" class="n"/>
<line x1="163.4" y1="478.2" x2="166.34" y2="476.5" class="n"/>
<rect x="142.3" y="482.4" width="22.8" height="2.8" rx="1.2" style="stroke:#444;stroke-width:.9;fill:#ccc"/>
<circle cx="153.7" cy="483.8" r="1.2" class="n"/>
<rect x="174.5" y="480.7" width="6.2" height="6.2" rx="1.6" class="w" transform="rotate(0 177.6 483.8)"/>
<circle cx="177.6" cy="483.8" r="2.1"/>
<circle cx="177.6" cy="483.8" r="1" class="n"/>
<rect x="150.6" y="504.6" width="6.2" height="6.2" rx="1.6" class="w" transform="rotate(90 153.7 507.7)"/>
<circle cx="153.7" cy="507.7" r="2.1"/>
<circle cx="153.7" cy="507.7" r="1" class="n"/>
<rect x="126.7" y="480.7" width="6.2" height="6.2" rx="1.6" class="w" transform="rotate(180 129.8 483.8)"/>
<circle cx="129.8" cy="483.8" r="2.1"/>
<circle cx="129.8" cy="483.8" r="1" class="n"/>
<rect x="150.6" y="456.8" width="6.2" height="6.2" rx="1.6" class="w" transform="rotate(270 153.7 459.9)"/>
<circle cx="153.7" cy="459.9" r="2.1"/>
<circle cx="153.7" cy="459.9" r="1" class="n"/>
<line x1="172.75" y1="494.8" x2="176.22" y2="496.8" class="n"/>
<line x1="164.7" y1="502.85" x2="166.7" y2="506.32" class="n"/>
<line x1="142.7" y1="502.85" x2="140.7" y2="506.32" class="n"/>
<line x1="134.65" y1="494.8" x2="131.18" y2="496.8" class="n"/>
<line x1="134.65" y1="472.8" x2="131.18" y2="470.8" class="n"/>
<line x1="142.7" y1="464.75" x2="140.7" y2="461.28" class="n"/>
<line x1="164.7" y1="464.75" x2="166.7" y2="461.28" class="n"/>
<line x1="172.75" y1="472.8" x2="176.22" y2="470.8" class="n"/>
<line x1="153.7" y1="443" x2="153.7" y2="468.5" class="d"/>
<line x1="153.7" y1="499.5" x2="153.7" y2="539.5" class="d"/>
<line x1="153.7" y1="469" x2="153.7" y2="498.5" class="n"/>
<path d="M16.2 484 H131 M176 484 H197.5" style="stroke-width:1.05;stroke:#444"/>
<line x1="131" y1="484" x2="176" y2="484" class="d"/>
<path d="M99 616 L67 625.4 M120 616 L152 625.4"/>
<circle cx="109.4" cy="614" r="1.4"/>
<path d="M101 616 V622 Q101 624.5 103 624.5 Q105 624.5 105 622 V618.5 M113.8 618.5 V622 Q113.8 624.5 115.8 624.5 Q117.8 624.5 117.8 622 V616 M102.6 617 V623 M116.2 617 V623"/>
<rect x="42.8" y="625.4" width="133.1" height="12" class="w"/>
<line x1="50" y1="625.4" x2="50" y2="637.4" class="n"/>
<line x1="55" y1="625.4" x2="55" y2="637.4" class="n"/>
<line x1="60" y1="625.4" x2="60" y2="637.4" class="n"/>
<line x1="61.8" y1="625.4" x2="61.8" y2="637.4" class="n"/>
<line x1="66.6" y1="625.4" x2="66.6" y2="637.4" class="n"/>
<line x1="70" y1="625.4" x2="70" y2="637.4" class="n"/>
<line x1="79" y1="625.4" x2="79" y2="637.4" class="n"/>
<line x1="92" y1="625.4" x2="92" y2="637.4" class="n"/>
<line x1="127" y1="625.4" x2="127" y2="637.4" class="n"/>
<line x1="139" y1="625.4" x2="139" y2="637.4" class="n"/>
<line x1="148.2" y1="625.4" x2="148.2" y2="637.4" class="n"/>
<line x1="151" y1="625.4" x2="151" y2="637.4" class="n"/>
<line x1="156.6" y1="625.4" x2="156.6" y2="637.4" class="n"/>
<line x1="158.4" y1="625.4" x2="158.4" y2="637.4" class="n"/>
<line x1="164" y1="625.4" x2="164" y2="637.4" class="n"/>
<line x1="169" y1="625.4" x2="169" y2="637.4" class="n"/>
<line x1="135.1" y1="322" x2="135.1" y2="606" class="c"/>
<line x1="16.2" y1="509.6" x2="238" y2="509.6" class="c"/>
<line x1="109.4" y1="562" x2="109.4" y2="646" class="c"/>
<line x1="241" y1="491.4" x2="267.5" y2="491.4" class="cs"/>
<line x1="241" y1="528" x2="267.5" y2="528" class="cs"/>
<line x1="31.4" y1="314" x2="31.4" y2="372.6" class="d"/>
<line x1="135.1" y1="314" x2="135.1" y2="322" class="d"/>
<line x1="31.4" y1="316.7" x2="135.1" y2="316.7" class="d"/>
<path d="M31.4 316.7 L37 315.75 L37 317.65 Z" class="a"/>
<path d="M135.1 316.7 L129.5 317.65 L129.5 315.75 Z" class="a"/>
<text x="84.2" y="314.6" font-size="11.6" text-anchor="middle">141</text>
<line x1="16.2" y1="427.9" x2="140" y2="427.9" class="d"/>
<line x1="20.4" y1="427.9" x2="20.4" y2="484" class="d"/>
<path d="M20.4 427.9 L21.35 433.5 L19.45 433.5 Z" class="a"/>
<path d="M20.4 484 L19.45 478.4 L21.35 478.4 Z" class="a"/>
<line x1="20.4" y1="484" x2="20.4" y2="509.6" class="d"/>
<path d="M20.4 484 L21.35 489.6 L19.45 489.6 Z" class="a"/>
<path d="M20.4 509.6 L19.45 504 L21.35 504 Z" class="a"/>
<text x="19" y="455.5" font-size="11.6" text-anchor="middle" transform="rotate(-90 19 455.5)">76</text>
<text x="19" y="496.8" font-size="11.6" text-anchor="middle" transform="rotate(-90 19 496.8)">35</text>
<line x1="238" y1="509.6" x2="267.5" y2="509.6" class="d"/>
<line x1="266" y1="491.4" x2="266" y2="528" class="d"/>
<path d="M266 491.4 L267 496.4 L265 496.4 Z" class="a"/>
<path d="M266 509.6 L265 504.6 L267 504.6 Z" class="a"/>
<path d="M266 509.6 L267 514.6 L265 514.6 Z" class="a"/>
<path d="M266 528 L265 523 L267 523 Z" class="a"/>
<text x="264" y="500.3" font-size="11.6" text-anchor="middle" transform="rotate(-90 264 500.3)">25</text>
<text x="264" y="518.9" font-size="11.6" text-anchor="middle" transform="rotate(-90 264 518.9)">25</text>
<line x1="154.3" y1="540" x2="154.3" y2="602.5" class="d"/>
<line x1="216.1" y1="545.5" x2="216.1" y2="602.5" class="d"/>
<line x1="235.8" y1="539.5" x2="235.8" y2="602.5" class="d"/>
<line x1="154.3" y1="601" x2="216.1" y2="601" class="d"/>
<path d="M154.3 601 L159.9 600.05 L159.9 601.95 Z" class="a"/>
<path d="M216.1 601 L210.5 601.95 L210.5 600.05 Z" class="a"/>
<line x1="216.1" y1="601" x2="235.8" y2="601" class="d"/>
<path d="M216.1 601 L221.7 600.05 L221.7 601.95 Z" class="a"/>
<path d="M235.8 601 L230.2 601.95 L230.2 600.05 Z" class="a"/>
<text x="185.2" y="599" font-size="11.6" text-anchor="middle">85.5</text>
<text x="226.4" y="599" font-size="11.6" text-anchor="middle">25</text>
<line x1="42.8" y1="637.4" x2="42.8" y2="662.5" class="d"/>
<line x1="175.9" y1="637.4" x2="175.9" y2="662.5" class="d"/>
<line x1="42.8" y1="660.6" x2="175.9" y2="660.6" class="d"/>
<path d="M42.8 660.6 L48.4 659.65 L48.4 661.55 Z" class="a"/>
<path d="M175.9 660.6 L170.3 661.55 L170.3 659.65 Z" class="a"/>
<text x="109.6" y="658.2" font-size="11.6" text-anchor="middle">Ø180</text>
<text x="245.6" y="445.7" font-size="11.5" text-anchor="start">2-G3/4"<tspan class="cj" font-size="11.3">防水接头</tspan></text>
<path d="M329.3 448.4 H245 L234.9 482.2" class="d"/>
<!-- flange -->
<text x="475.3" y="437.8" font-size="15.8" text-anchor="start" class="ti" letter-spacing="0.62">法兰安装尺寸</text>
<circle cx="523.3" cy="553.5" r="80.5"/>
<circle cx="523.3" cy="553.5" r="29.4"/>
<circle cx="523.3" cy="553.5" r="70.3" class="cs" style="stroke-dasharray:17 3.5 3.5 3.5;stroke-dashoffset:6"/>
<circle cx="523.3" cy="553.5" r="56.3" class="cs" style="stroke-dasharray:17 3.5 3.5 3.5;stroke-dashoffset:12"/>
<circle cx="589.63" cy="580.98" r="4.9" class="w"/>
<circle cx="589.63" cy="580.98" r="3"/>
<circle cx="550.78" cy="619.83" r="4.9" class="w"/>
<circle cx="550.78" cy="619.83" r="3"/>
<circle cx="495.82" cy="619.83" r="4.9" class="w"/>
<circle cx="495.82" cy="619.83" r="3"/>
<circle cx="456.97" cy="580.98" r="4.9" class="w"/>
<circle cx="456.97" cy="580.98" r="3"/>
<circle cx="456.97" cy="526.02" r="4.9" class="w"/>
<circle cx="456.97" cy="526.02" r="3"/>
<circle cx="495.82" cy="487.17" r="4.9" class="w"/>
<circle cx="495.82" cy="487.17" r="3"/>
<circle cx="550.78" cy="487.17" r="4.9" class="w"/>
<circle cx="550.78" cy="487.17" r="3"/>
<circle cx="589.63" cy="526.02" r="4.9" class="w"/>
<circle cx="589.63" cy="526.02" r="3"/>
<line x1="553.71" y1="583.91" x2="581.28" y2="611.48" class="n"/>
<line x1="577.39" y1="611.13" x2="580.93" y2="607.59" class="n"/>
<circle cx="572.51" cy="602.71" r="6.5" style="fill:none;stroke-width:1.1"/>
<circle cx="563.04" cy="593.24" r="5.3" style="fill:none;stroke-width:1.1"/>
<line x1="492.89" y1="583.91" x2="465.32" y2="611.48" class="n"/>
<line x1="465.67" y1="607.59" x2="469.21" y2="611.13" class="n"/>
<circle cx="474.09" cy="602.71" r="6.5" style="fill:none;stroke-width:1.1"/>
<circle cx="483.56" cy="593.24" r="5.3" style="fill:none;stroke-width:1.1"/>
<line x1="492.89" y1="523.09" x2="465.32" y2="495.52" class="n"/>
<line x1="469.21" y1="495.87" x2="465.67" y2="499.41" class="n"/>
<circle cx="474.09" cy="504.29" r="6.5" style="fill:none;stroke-width:1.1"/>
<circle cx="483.56" cy="513.76" r="5.3" style="fill:none;stroke-width:1.1"/>
<line x1="553.71" y1="523.09" x2="581.28" y2="495.52" class="n"/>
<line x1="580.93" y1="499.41" x2="577.39" y2="495.87" class="n"/>
<circle cx="572.51" cy="504.29" r="6.5" style="fill:none;stroke-width:1.1"/>
<circle cx="563.04" cy="513.76" r="5.3" style="fill:none;stroke-width:1.1"/>
<line x1="523.3" y1="459.5" x2="523.3" y2="648" class="c"/>
<line x1="441" y1="553.5" x2="618" y2="553.5" class="c"/>
<line x1="434.11" y1="530.93" x2="666.78" y2="589.81" class="d"/>
<path d="M601.34 573.25 L607.89 573.87 L607.4 575.81 Z" class="a"/>
<path d="M445.26 533.75 L438.71 533.13 L439.2 531.19 Z" class="a"/>
<text x="650.8" y="584.2" font-size="11.6" text-anchor="middle" transform="rotate(14 650.8 584.2)">Ø146</text>
<line x1="439.94" y1="563.88" x2="645.85" y2="538.24" class="d"/>
<path d="M593.06 544.81 L599.39 543.02 L599.63 545 Z" class="a"/>
<path d="M453.54 562.19 L447.21 563.98 L446.97 562 Z" class="a"/>
<text x="628.3" y="539.2" font-size="11.6" text-anchor="middle" transform="rotate(-5.5 628.3 539.2)">Ø125</text>
<line x1="453.63" y1="546.67" x2="647.7" y2="565.7" class="d"/>
<path d="M579.33 558.99 L585.9 558.63 L585.7 560.62 Z" class="a"/>
<path d="M467.27 548.01 L460.7 548.37 L460.9 546.38 Z" class="a"/>
<text x="633.5" y="563.2" font-size="11.6" text-anchor="middle" transform="rotate(4.5 633.5 563.2)">Ø102</text>
<line x1="484.88" y1="575.95" x2="561.72" y2="531.05" class="d"/>
<path d="M548.68 538.67 L553.79 534.52 L554.8 536.25 Z" class="a"/>
<path d="M497.92 568.33 L492.81 572.48 L491.8 570.75 Z" class="a"/>
<text x="535.8" y="543.8" font-size="11.6" text-anchor="middle" transform="rotate(-28 535.8 543.8)">Ø48.5</text>
<text x="622.5" y="493.9" font-size="11.6" text-anchor="middle">4-M12</text>
<path d="M638.3 496 H606 L581.5 501.9" class="d"/>
<path d="M580.2 502.2 L585.78 499.78 L586.26 501.72 Z" class="a"/>
<text x="625.3" y="509.4" font-size="11.6" text-anchor="middle">4-M10</text>
<path d="M641.4 511.6 H609.2 L571 513.7" class="d"/>
<path d="M569 513.8 L574.94 512.49 L575.04 514.48 Z" class="a"/>
<line x1="546" y1="513.9" x2="557" y2="513.9" class="d"/>
<path d="M558.4 513.9 L552.4 514.9 L552.4 512.9 Z" class="a"/>
<text x="374.5" y="537.2" font-size="11.3" text-anchor="middle" class="cj">与手轮轴线平行</text>
<path d="M334 540.7 H416 L428.3 553.5 H446" class="d"/>
</g>
</svg>
</body></html>
